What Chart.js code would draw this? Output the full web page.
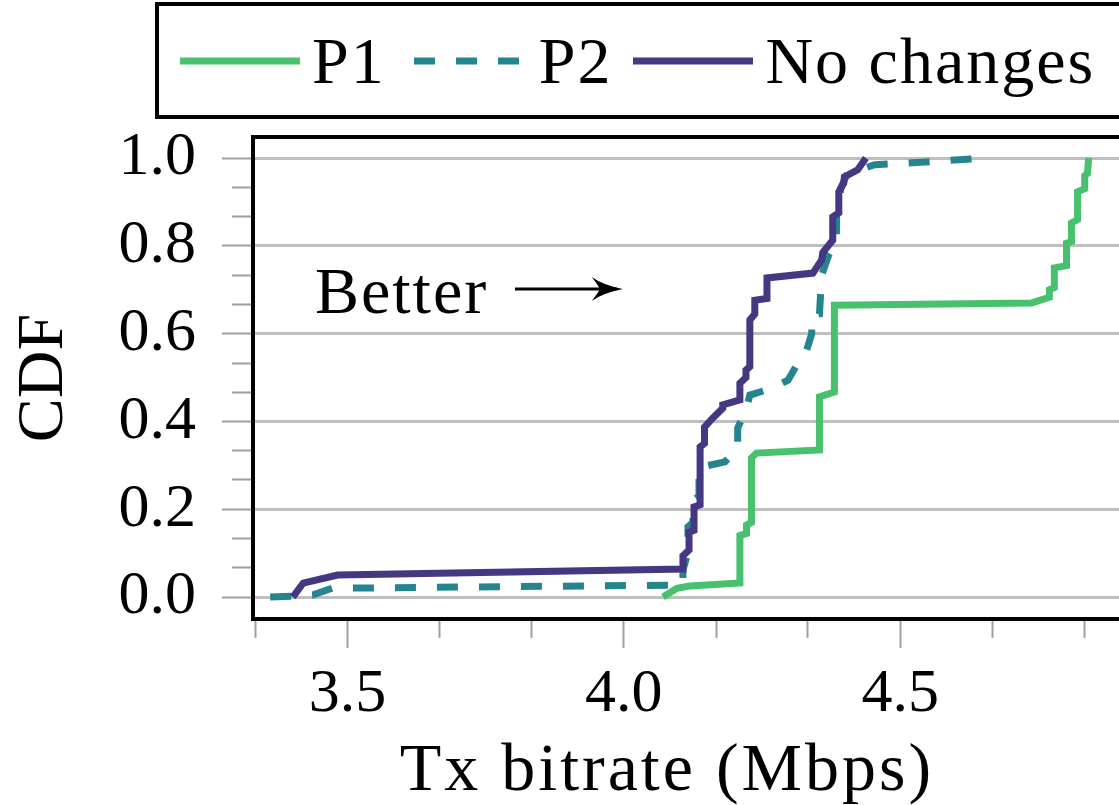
<!DOCTYPE html>
<html lang="en">
<head>
<meta charset="UTF-8">
<title>Tx bitrate CDF</title>
<script src="https://cdn.jsdelivr.net/npm/chart.js"></script>
<style>
    html, body { margin: 0; padding: 0; background: #fff; overflow: hidden; }
    .wrap { position: relative; width: 1119px; height: 805px; overflow: hidden; }
    #legend {
        position: absolute; left: 155px; top: 2px; width: 1000px; height: 117px;
        box-sizing: border-box; border: 4px solid #000; padding-left: 21px;
        display: flex; align-items: center;
        font-family: "Liberation Serif", serif; font-size: 66px; color: #000;
    }
    #legend .item { display: flex; align-items: center; margin-right: 21px; }
    #legend span { letter-spacing: 2px; }
    #legend svg { margin-right: 12px; }
</style>
</head>
<body>
<div class="wrap">
    <canvas id="cdf" width="1119" height="805"></canvas>
    <div id="legend"></div>
</div>
<script>
    // axis ticks
    const xTickValues = [3.333, 3.5, 3.667, 3.833, 4.0, 4.167, 4.333, 4.5, 4.667, 4.833];
    const xTickLabels = ['', '3.5', '', '', '4.0', '', '', '4.5', '', ''];
    const yTickValues = [0, 0.067, 0.133, 0.2, 0.267, 0.333, 0.4, 0.467, 0.533, 0.6, 0.667, 0.733, 0.8, 0.867, 0.933, 1.0];
    const yTickLabels = ['0.0', '', '', '0.2', '', '', '0.4', '', '', '0.6', '', '', '0.8', '', '', '1.0'];
    const xTitle = 'Tx bitrate (Mbps)';

    // P1
    const p1X = [4.071, 4.096, 4.119, 4.210, 4.210, 4.222, 4.222, 4.231, 4.231, 4.240, 4.354, 4.354, 4.381, 4.381,
                 4.738, 4.770, 4.770, 4.779, 4.779, 4.801, 4.801, 4.810, 4.810, 4.821, 4.821, 4.834, 4.834, 4.839, 4.841];
    const p1Y = [0.0, 0.02, 0.025, 0.032, 0.14, 0.145, 0.164, 0.17, 0.317, 0.328, 0.335, 0.456, 0.467, 0.665,
                 0.67, 0.683, 0.70, 0.705, 0.75, 0.755, 0.806, 0.81, 0.852, 0.86, 0.923, 0.93, 0.96, 0.965, 1.0];

    // P2
    const p2X = [3.360, 3.398, 3.438, 3.472, 4.080, 4.107, 4.107, 4.116, 4.116, 4.125, 4.125, 4.136, 4.136, 4.183,
                 4.206, 4.206, 4.222, 4.228, 4.264, 4.297, 4.315, 4.331, 4.340, 4.340, 4.354, 4.358, 4.371, 4.385,
                 4.385, 4.392, 4.392, 4.405, 4.426, 4.454, 4.530, 4.655];
    const p2Y = [0.0, 0.002, 0.005, 0.02, 0.027, 0.03, 0.062, 0.10, 0.16, 0.17, 0.22, 0.23, 0.295, 0.308,
                 0.34, 0.385, 0.43, 0.46, 0.474, 0.494, 0.533, 0.563, 0.60, 0.642, 0.645, 0.733, 0.78, 0.81,
                 0.87, 0.89, 0.93, 0.966, 0.973, 0.985, 0.99, 1.0];

    // No changes
    const ncX = [3.401, 3.420, 3.482, 4.107, 4.107, 4.118, 4.118, 4.127, 4.127, 4.138, 4.138, 4.146, 4.146, 4.159,
                 4.179, 4.179, 4.210, 4.210, 4.221, 4.221, 4.228, 4.228, 4.237, 4.237, 4.259, 4.259, 4.342, 4.358,
                 4.360, 4.378, 4.378, 4.389, 4.389, 4.398, 4.399, 4.423, 4.438];
    const ncY = [0.0, 0.032, 0.05, 0.064, 0.094, 0.107, 0.148, 0.152, 0.205, 0.21, 0.342, 0.35, 0.387, 0.405,
                 0.43, 0.438, 0.449, 0.487, 0.50, 0.517, 0.525, 0.631, 0.645, 0.676, 0.68, 0.727, 0.738, 0.768,
                 0.785, 0.813, 0.866, 0.875, 0.923, 0.943, 0.957, 0.973, 1.0];

    const pts = (xs, ys) => xs.map((x, i) => ({ x: x, y: ys[i] }));
    const font = '"Liberation Serif", serif';

    // draws the top / left / bottom frame (right side runs off the picture)
    const frame = {
        id: 'frame',
        afterDraw(chart) {
            const ctx = chart.ctx, a = chart.chartArea;
            ctx.save();
            ctx.strokeStyle = '#000';
            ctx.lineWidth = 4;
            ctx.beginPath();
            ctx.moveTo(chart.width + 5, a.top);
            ctx.lineTo(a.left, a.top);
            ctx.lineTo(a.left, a.bottom);
            ctx.lineTo(chart.width + 5, a.bottom);
            ctx.stroke();
            ctx.restore();
        }
    };

    // "Better ->" note and the x axis title (not centred on the plot in the original)
    const note = {
        id: 'note',
        afterDraw(chart) {
            const ctx = chart.ctx, xs = chart.scales.x, ys = chart.scales.y;
            ctx.save();
            ctx.fillStyle = '#000';
            ctx.font = '66px ' + font;
            ctx.letterSpacing = '2px';
            ctx.textBaseline = 'alphabetic';
            ctx.fillText('Better', xs.getPixelForValue(3.441), ys.getPixelForValue(0.647));

            ctx.font = '68px ' + font;
            ctx.letterSpacing = '3px';
            ctx.textAlign = 'center';
            ctx.fillText(xTitle, xs.getPixelForValue(4.078), xs.bottom - 15);

            const x0 = xs.getPixelForValue(3.803), x1 = xs.getPixelForValue(3.998), y = ys.getPixelForValue(0.7016);
            ctx.strokeStyle = '#000';
            ctx.lineWidth = 3;
            ctx.beginPath();
            ctx.moveTo(x0, y);
            ctx.lineTo(x1 - 6, y);
            ctx.stroke();
            ctx.beginPath();
            ctx.moveTo(x1, y);
            ctx.quadraticCurveTo(x1 - 20, y - 4, x1 - 31, y - 12);
            ctx.quadraticCurveTo(x1 - 24, y - 3, x1 - 23, y);
            ctx.quadraticCurveTo(x1 - 24, y + 3, x1 - 31, y + 12);
            ctx.quadraticCurveTo(x1 - 20, y + 4, x1, y);
            ctx.fill();
            ctx.restore();
        }
    };

    // html legend built from the datasets
    const htmlLegend = {
        id: 'htmlLegend',
        afterUpdate(chart) {
            const box = document.getElementById('legend');
            box.innerHTML = '';
            chart.data.datasets.forEach(ds => {
                const dash = (ds.borderDash || []).join(' ');
                const item = document.createElement('div');
                item.className = 'item';
                item.innerHTML = '<svg width="120" height="12"><line x1="0" y1="6" x2="120" y2="6" stroke="' + ds.borderColor +
                    '" stroke-width="' + ds.borderWidth + '" stroke-dasharray="' + dash + '" stroke-dashoffset="-7"/></svg><span>' +
                    ds.label + '</span>';
                box.appendChild(item);
            });
        }
    };

    const isMajorY = c => yTickLabels[c.index] !== '';
    const isMajorX = c => xTickLabels[c.index] !== '';

    new Chart(document.getElementById('cdf'), {
        type: 'line',
        data: {
            datasets: [
                { label: 'P1', data: pts(p1X, p1Y), borderColor: '#48c16e', borderWidth: 7, order: 2 },
                { label: 'P2', data: pts(p2X, p2Y), borderColor: '#25858e', borderWidth: 7, borderDash: [21, 21], order: 1 },
                { label: 'No changes', data: pts(ncX, ncY), borderColor: '#453781', borderWidth: 7, order: 0 }
            ]
        },
        options: {
            responsive: false,
            animation: false,
            devicePixelRatio: 1,
            layout: { padding: { top: 137, right: 0, left: 0, bottom: 0 } },
            elements: { point: { radius: 0 }, line: { tension: 0, fill: false } },
            plugins: { legend: { display: false }, tooltip: { enabled: false } },
            scales: {
                x: {
                    type: 'linear',
                    min: 3.329,
                    max: 4.896,
                    afterBuildTicks: s => { s.ticks = xTickValues.map(v => ({ value: v })); },
                    afterFit: s => { s.height = 186; },
                    border: { display: false },
                    grid: {
                        drawOnChartArea: false,
                        tickLength: 29,
                        tickWidth: 2,
                        tickColor: '#a0a0a0',
                        tickBorderDash: c => isMajorX(c) ? [] : [19, 100]
                    },
                    ticks: {
                        autoSkip: false,
                        maxRotation: 0,
                        padding: 10,
                        color: '#000',
                        font: { family: font, size: 62 },
                        callback: (v, i) => xTickLabels[i]
                    },
                    title: { display: false, text: xTitle }
                },
                y: {
                    type: 'linear',
                    min: -0.05,
                    max: 1.048,
                    afterBuildTicks: s => { s.ticks = yTickValues.map(v => ({ value: v })); },
                    afterFit: s => { s.width = 253; },
                    border: { display: false },
                    grid: {
                        color: c => isMajorY(c) ? '#bfbfbf' : 'rgba(0,0,0,0)',
                        lineWidth: 3,
                        tickLength: 31,
                        tickWidth: 2,
                        tickColor: '#a0a0a0',
                        tickBorderDash: c => isMajorY(c) ? [] : [0, 10, 21, 100]
                    },
                    ticks: {
                        autoSkip: false,
                        padding: 26,
                        color: '#000',
                        font: { family: font, size: 62 },
                        callback: (v, i) => yTickLabels[i]
                    },
                    title: {
                        display: true,
                        text: 'CDF',
                        color: '#000',
                        font: { family: font, size: 66 },
                        padding: { top: 5, bottom: 0 }
                    }
                }
            }
        },
        plugins: [htmlLegend, frame, note]
    });
</script>
</body>
</html>
